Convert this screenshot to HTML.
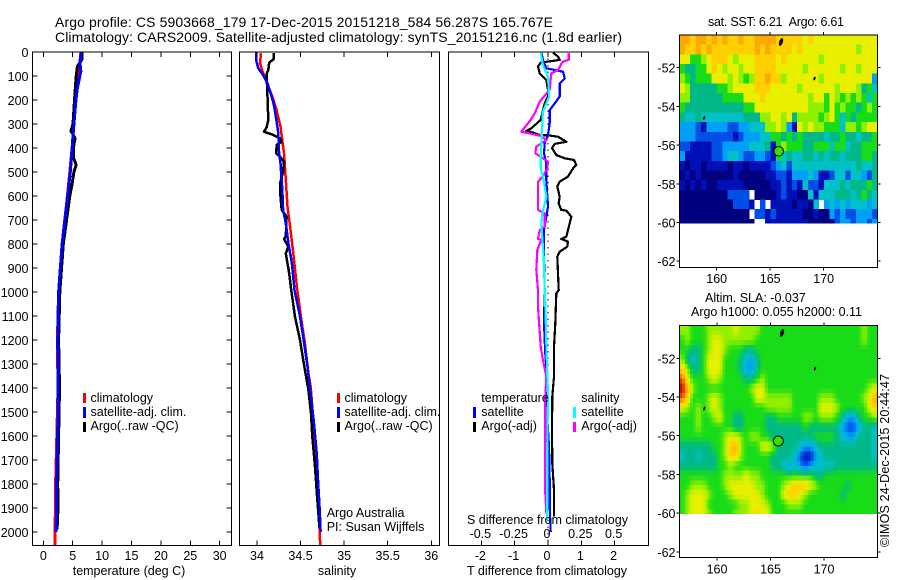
<!DOCTYPE html>
<html lang="en">
<head>
<meta charset="utf-8">
<title>Argo profile chart</title>
<style>
html,body{margin:0;padding:0;background:#fff}
svg{display:block}
text{font-family:"Liberation Sans",sans-serif;font-size:12.5px;fill:#000}
.t{font-size:14px}
</style>
</head>
<body>
<svg id="chart" width="900" height="580" viewBox="0 0 900 580" xmlns="http://www.w3.org/2000/svg">
<rect width="900" height="580" fill="#fff"/>
<text class="t" x="55" y="27" textLength="498">Argo profile: CS 5903668_179 17-Dec-2015 20151218_584 56.287S 165.767E</text>
<text class="t" x="55" y="42" textLength="567">Climatology: CARS2009. Satellite-adjusted climatology: synTS_20151216.nc (1.8d earlier)</text>
<text x="708" y="26" textLength="136">sat. SST: 6.21&#160;&#160;Argo: 6.61</text>
<text x="705" y="302">Altim. SLA: -0.037</text>
<text x="691" y="316" textLength="171">Argo h1000: 0.055 h2000: 0.11</text>
<text transform="translate(889,547) rotate(-90)" textLength="173">©IMOS 24-Dec-2015 20:44:47</text>
<g id="layer"></g>
</svg>
<script>
// ---- axis tick values ----
const depthTicks = [0,100,200,300,400,500,600,700,800,900,1000,1100,1200,1300,1400,1500,1600,1700,1800,1900,2000];
const tempTicks = [0,5,10,15,20,25,30];
const salTicks = [34,34.5,35,35.5,36];
const tDiffTicks = [-2,-1,0,1,2];
const sDiffTicks = [-0.5,-0.25,0,0.25,0.5];
const lonTicks = [160,165,170];
const latTicks = [-52,-54,-56,-58,-60,-62];

// ---- temperature profiles ----
const tempClimDepth = [0,50,100,200,300,400,500,600,800,1000,1200,1400,1600,1800,2000,2054];
const tempClim = [6.4,6.2,5.9,5.5,5.2,4.9,4.5,4.1,3.2,2.6,2.4,2.5,2.3,2.1,2.0,2.0];
const tempSatDepth = [0,40,80,100,150,200,300,400,500,600,800,1000,1200,1400,1600,1800,2000];
const tempSat = [6.5,6.2,6.4,6.2,5.8,5.55,5.2,4.9,4.6,4.15,3.2,2.6,2.45,2.5,2.45,2.25,2.2];
const tempArgoDepth = [0,30,60,100,200,300,330,340,360,400,440,470,500,550,600,800,1000,1200,1400,1600,1800,1900,1990];
const tempArgo = [6.6,6.6,5.8,5.6,5.3,5.05,4.7,5.0,5.4,5.1,5.1,5.6,5.2,4.9,4.5,3.4,2.8,2.6,2.75,2.6,2.45,2.5,2.35];

// ---- salinity profiles ----
const salClimDepth = [5,47,82,117,179,242,311,422,533,644,728,839,985,1117,1214,1339,1394,1700,2005,2054];
const salClim = [34.046,34.034,34.065,34.10,34.17,34.225,34.27,34.31,34.33,34.35,34.38,34.417,34.46,34.51,34.55,34.59,34.616,34.68,34.72,34.725];
const salSatDepth = [0,33,68,96,130,165,214,255,339,408,464,519,575,658,714,797,880,992,1089,1186,1311,1436,1547,1672,1783,1908,1999];
const salSat = [33.99,33.99,34.015,34.07,34.12,34.15,34.19,34.21,34.245,34.25,34.27,34.28,34.29,34.30,34.33,34.36,34.40,34.43,34.486,34.53,34.58,34.62,34.654,34.685,34.70,34.72,34.73];
const salArgoDepth = [5,30,44,75,89,186,283,314,332,343,360,374,387,422,436,457,499,547,603,658,686,769,779,811,839,922,985,1103,1200,1283,1408,1506,1603,1728,1853,1950,1980];
const salArgo = [34.195,34.19,34.14,34.13,34.11,34.12,34.13,34.11,34.08,34.17,34.264,34.283,34.226,34.22,34.264,34.31,34.30,34.264,34.27,34.283,34.34,34.33,34.31,34.36,34.33,34.37,34.39,34.436,34.493,34.53,34.59,34.62,34.635,34.665,34.69,34.71,34.715];

// ---- differences from climatology ----
const dTempArgoDepth = [3,19,33,40,44,61,89,117,158,186,214,242,283,318,328,336,346,347,353,374,383,401,429,443,450,471,485,519,540,561,603,631,658,661,686,742,769,779,790,811,832,853,922,992,1006,1131,1228,1353,1436,1575,1714,1825,1936];
const dTempArgo = [.15,.30,.35,0,-.22,-.30,-.25,-.05,0,0,-.10,-.15,-.22,-.50,-.65,-.45,-.25,0,.30,.55,.20,.12,.25,.50,.78,.85,.75,.60,.35,.28,.35,.32,.40,.55,.70,.60,.55,.40,.60,.58,.35,.28,.30,.32,.25,.22,.18,.18,.13,.12,.13,.18,.18];
const dTempSatDepth = [3,33,68,82,110,131,186,214,242,297,346,381,422,464,533,644,686,742,853,992,1131,1256,1367,1506,1644,1783,1894,1999];
const dTempSat = [-.2,-.15,-.05,.45,.5,.35,.35,.2,.05,.05,0,-.1,-.12,-.05,-.05,0,-.05,-.12,-.12,-.10,-.12,-.08,-.02,-.03,.03,.05,.05,.08];
const dSalArgoDepth = [5,33,40,75,89,158,207,256,283,332,350,367,394,422,443,457,485,519,540,658,672,728,742,779,783,825,908,992,1061,1228,1283,1353,1436,1617,1839,1922];
const dSalArgo = [.155,.155,.11,.075,.025,.012,-.062,-.10,-.13,-.20,-.05,-.012,-.088,-.095,-.038,0,-.005,-.038,-.075,-.075,-.025,-.025,-.062,-.075,-.05,-.08,-.088,-.075,-.075,-.055,-.038,-.012,-.02,-.02,-.02,-.012];
const dSalSatDepth = [3,54,103,186,249,325,436,485,519,603,672,721,853,992,1089,1228,1339,1436,1644,1853,1950];
const dSalSat = [-.055,-.038,0,.008,-.038,-.045,-.055,-.055,-.038,-.012,-.042,-.05,-.032,-.025,-.018,-.012,-.005,0,-.005,-.005,-.005];

// ---- map grids: colour-scale level per half-degree cell, north to south ----
const sstGrid = [
[10,10,9,10,10,9,10,9,10,9,9,10,9,9,10,10,10,10,9,9,9,9,9,8,9,8,8,8,8,8,8,8,8,8,8,8,8],
[10,9,9,10,9,10,9,9,9,9,9,9,9,9,10,9,10,9,9,9,9,8,9,8,8,8,8,8,8,8,8,8,8,7,8,8,8],
[8,8,6,6,7,8,9,9,9,8,7,8,8,8,9,9,9,9,8,9,8,8,8,8,8,8,7,8,8,8,8,8,8,8,8,8,8],
[6,5,5,6,6,8,9,8,7,8,8,7,8,8,9,9,9,9,8,8,8,8,8,7,8,8,8,8,8,8,7,8,8,7,8,8,8],
[7,6,5,6,6,6,8,8,8,7,8,7,6,7,9,9,10,9,9,7,8,8,8,8,8,8,7,8,8,8,8,8,8,8,8,8,3],
[8,7,5,5,5,5,5,6,6,7,8,8,8,8,9,9,9,8,8,8,8,8,7,8,8,8,8,8,8,7,8,8,8,7,5,6,4],
[7,7,5,5,5,5,5,5,6,6,6,6,8,8,8,9,8,8,8,8,8,8,8,8,7,8,8,6,8,7,6,7,6,7,6,4,6],
[6,5,5,5,5,5,5,5,5,5,5,5,6,6,8,8,8,8,8,8,8,8,8,8,7,7,7,6,8,6,7,6,6,5,6,7,6],
[5,4,4,5,4,4,4,4,4,4,4,4,5,5,5,7,7,8,8,7,8,5,7,7,7,7,6,7,8,6,4,6,5,6,6,6,6],
[3,3,3,2,1,3,3,3,3,2,2,3,3,4,4,4,7,7,8,7,3,1,8,7,8,7,7,6,6,6,4,7,7,6,7,8,8],
[3,3,3,2,2,2,2,2,2,2,1,2,3,3,3,4,4,6,6,5,6,5,6,5,5,5,5,4,5,5,6,5,5,4,5,5,6],
[2,2,1,1,1,1,2,2,3,3,3,3,3,4,4,4,5,1,6,7,6,6,6,5,5,6,6,6,4,6,6,4,5,5,6,6,6],
[3,1,1,1,1,1,2,2,3,4,4,3,2,2,3,3,2,1,6,4,5,4,4,5,5,4,5,4,5,5,4,5,5,5,6,6,5],
[1,0,1,1,0,1,1,1,1,0,1,1,0,1,1,1,1,2,3,4,2,4,4,4,4,4,4,4,4,4,4,4,4,5,4,4,5],
[0,1,0,1,0,0,0,0,0,0,1,0,0,0,0,0,1,1,2,2,1,3,3,3,4,3,1,1,2,4,4,2,4,4,3,2,5],
[1,0,1,0,1,0,0,1,1,1,1,1,0,0,0,0,0,1,1,2,1,2,1,4,2,2,1,4,4,4,5,4,5,5,5,6,5],
[0,0,0,0,0,0,0,0,0,2,2,2,2,null,0,0,0,0,1,2,1,1,0,0,4,1,4,4,4,5,5,5,4,5,6,5,4],
[0,0,0,0,0,0,0,0,0,0,2,2,2,1,null,2,null,1,1,1,1,0,1,1,0,4,null,3,4,3,4,3,4,4,4,3,4],
[0,0,0,0,0,0,0,0,0,0,0,0,0,null,2,2,1,2,1,1,1,1,1,0,0,1,0,0,3,2,3,2,2,3,3,3,2],
[0,0,0,0,0,0,0,0,0,0,0,0,0,0,null,null,1,1,1,1,1,1,1,1,0,0,0,0,0,2,3,3,2,3,3,2,3]
];
const slaGrid = [
[7,7,6,6,6,7,7,7,7,7,8,7,7,7,7,6,6,6,6,6,6,6,6,6,6,6,6,6,6,6,6,6,6,6,7,6,6],
[6,7,6,6,6,7,8,8,7,7,7,7,7,7,6,6,6,6,6,6,6,6,6,6,6,6,6,6,6,6,6,6,6,6,7,6,6],
[6,6,5,5,6,7,8,8,7,6,6,6,5,5,6,6,6,6,6,6,6,6,6,6,6,6,6,6,6,6,6,6,6,6,6,6,6],
[7,5,4,5,6,8,8,8,6,6,6,5,4,3,5,6,6,6,6,6,6,6,6,6,6,6,6,6,6,6,6,6,6,6,6,6,6],
[9,7,5,5,6,8,8,8,6,6,6,5,3,3,5,6,6,6,6,6,6,6,6,6,6,6,6,6,6,6,6,6,6,6,6,6,6],
[11,8,6,6,6,7,8,7,6,6,6,6,5,5,6,7,6,6,6,6,6,6,6,6,6,6,6,6,6,6,6,6,6,6,6,6,6],
[12,10,7,6,6,6,6,6,6,6,6,6,6,7,8,8,6,6,6,6,6,6,6,6,6,6,6,6,6,6,6,6,6,6,6,7,8],
[11,9,6,6,6,7,8,7,6,6,6,6,6,6,8,8,7,7,7,7,7,6,6,6,6,6,7,7,7,6,6,6,6,6,7,8,10],
[8,7,6,7,6,7,8,7,6,6,6,6,6,6,6,6,7,7,7,7,7,6,6,6,6,6,8,8,8,7,6,6,6,6,6,8,9],
[6,6,6,7,6,6,7,8,6,6,5,5,6,6,6,6,5,5,6,6,6,6,6,7,7,6,7,7,7,6,5,3,3,5,6,6,7],
[6,6,6,7,6,6,6,6,6,6,5,5,6,6,6,6,5,5,5,5,5,5,5,6,5,5,5,5,5,5,3,2,2,3,5,5,4],
[6,6,6,6,6,6,6,6,7,8,8,7,6,7,7,6,6,5,5,5,5,5,5,5,5,6,6,6,6,5,4,3,3,5,5,5,4],
[5,5,5,5,5,5,6,6,7,9,10,7,6,6,6,8,8,7,5,5,5,5,4,3,3,4,5,5,5,5,5,5,5,5,5,5,4],
[4,5,5,4,5,5,5,6,7,9,9,7,6,6,6,6,6,5,5,5,5,4,2,1,1,3,4,5,5,5,5,5,5,5,5,5,4],
[5,5,5,5,5,5,5,6,6,7,6,6,6,6,6,6,6,5,5,4,3,4,3,2,3,4,4,4,4,5,5,5,5,5,5,5,5],
[6,6,6,6,6,6,6,6,7,7,7,7,8,7,7,6,6,6,6,6,6,6,6,6,6,5,5,6,6,6,6,6,6,6,6,6,6],
[6,6,7,7,7,6,6,6,7,8,8,8,8,8,7,7,6,6,6,7,8,9,9,9,8,7,6,6,6,6,6,5,6,6,6,6,6],
[6,7,8,8,8,7,6,6,6,7,8,8,8,8,8,7,6,6,6,8,9,9,8,7,6,6,6,6,6,6,5,6,6,6,6,6,6],
[6,7,8,8,8,6,6,6,6,6,6,7,7,8,8,8,7,6,6,6,7,7,7,6,6,6,6,6,6,6,6,6,6,6,6,6,6],
[6,7,8,8,8,7,6,6,6,6,7,7,7,8,9,8,8,6,6,6,6,6,6,6,6,6,6,6,6,6,6,6,6,6,6,6,6]
];
const levelColors = ['#000080','#0010b8','#0050e8','#00a0f8','#00c0c8','#00b888','#18dc18','#90f000','#e8f000','#ffd000','#ffa800','#f05000','#a01000'];

const NS = 'http://www.w3.org/2000/svg';
const layer = document.getElementById('layer');

function add(tag, attrs, name, txt) {
  const el = document.createElementNS(NS, tag);
  for (const k in attrs) el.setAttribute(k, attrs[k]);
  
  
  if (txt !== undefined) el.textContent = txt;
  layer.appendChild(el);
  return el;
}
function yDepth(d) { return 52 + 0.24 * d; }
function xTemp(t) { return 43.3 + 5.88 * t; }
function xSal(s) { return 257 + 87.15 * (s - 34); }
function xDT(t) { return 548 + 33.33 * t; }
function xDS(s) { return 548 + 133.3 * s; }

function lineStyle(name, depths, vals, xf, color, w) {
  const pts = depths.map((d, i) => xf(vals[i]).toFixed(1) + ',' + yDepth(d).toFixed(1)).join(' ');
  add('polyline', {points: pts, fill: 'none', stroke: color, 'stroke-width': w, 'shape-rendering': 'crispEdges', 'stroke-linejoin': 'round'}, name);
}
function box(name, x, y, w, h) {
  add('rect', {x: x, y: y, width: w, height: h, fill: 'none', stroke: '#000', 'stroke-width': 1.2, 'shape-rendering': 'crispEdges'}, name);
}
function tick(name, x1, y1, x2, y2) {
  add('line', {x1: x1, y1: y1, x2: x2, y2: y2, stroke: '#000', 'stroke-width': 1, 'shape-rendering': 'crispEdges'}, name);
}
function label(name, x, y, s, anchor) {
  add('text', {x: x, y: y, 'text-anchor': anchor || 'start'}, name, s);
}
function legend(name, x, y1, y2, color) {
  add('rect', {x: x, y: y1, width: 3, height: y2 - y1, fill: color, 'shape-rendering': 'crispEdges'}, name);
}
const L = 32.5, R = 231.5, T = 52, B = 545.5;

// panel 1: temperature
lineStyle('temperature-climatology-line', tempClimDepth, tempClim, xTemp, '#ff0000', 3);
lineStyle('temperature-argo-line', tempArgoDepth, tempArgo, xTemp, '#000', 3);
lineStyle('temperature-satellite-line', tempSatDepth, tempSat, xTemp, '#0000ff', 3);
box('temperature-plot-frame', L, T, R - L, B - T);
depthTicks.forEach(d => {
  tick('depth-tick-left', L, yDepth(d), L + 5, yDepth(d));
  tick('depth-tick-right', R - 5, yDepth(d), R, yDepth(d));
  label('depth-tick-label', 28.5, yDepth(d) + 5, String(d), 'end');
});
tempTicks.forEach(t => {
  tick('temperature-tick-top', xTemp(t), T, xTemp(t), T + 5);
  tick('temperature-tick-bottom', xTemp(t), B - 5, xTemp(t), B);
  label('temperature-tick-label', xTemp(t), 560, String(t), 'middle');
});
label('temperature-axis-title', 129, 575, 'temperature (deg C)', 'middle');
[['climatology', '#ff0000', 393, 403, 402], ['satellite-adj. clim.', '#0000ff', 407, 418, 416], ['Argo(..raw -QC)', '#000', 422, 432, 430]].forEach(e => {
  legend('temperature-legend-swatch', 83, e[2], e[3], e[1]);
  label('temperature-legend-label', 90.5, e[4], e[0]);
  legend('salinity-legend-swatch', 337, e[2], e[3], e[1]);
  label('salinity-legend-label', 344.5, e[4], e[0]);
});

// panel 2: salinity
lineStyle('salinity-climatology-line', salClimDepth, salClim, xSal, '#ff0000', 2.5);
lineStyle('salinity-argo-line', salArgoDepth, salArgo, xSal, '#000', 2.5);
lineStyle('salinity-satellite-line', salSatDepth, salSat, xSal, '#0000ff', 2.5);
box('salinity-plot-frame', 239.5, T, 200, B - T);
salTicks.forEach(s => {
  tick('salinity-tick-top', xSal(s), T, xSal(s), T + 5);
  tick('salinity-tick-bottom', xSal(s), B - 5, xSal(s), B);
  label('salinity-tick-label', xSal(s), 560, String(s), 'middle');
});
label('salinity-axis-title', 337, 575, 'salinity', 'middle');
label('float-operator-note', 326.7, 517, 'Argo Australia');
label('principal-investigator-note', 326.7, 531, 'PI: Susan Wijffels');

// panel 3: differences
add('line', {x1: 548, y1: T, x2: 548, y2: B, stroke: '#000', 'stroke-width': 1, 'stroke-dasharray': '1.5 5', 'shape-rendering': 'crispEdges'}, 'zero-difference-line');
lineStyle('temperature-diff-argo-line', dTempArgoDepth, dTempArgo, xDT, '#000', 2.2);
lineStyle('temperature-diff-satellite-line', dTempSatDepth, dTempSat, xDT, '#0000ff', 2.2);
lineStyle('salinity-diff-argo-line', dSalArgoDepth, dSalArgo, xDS, '#ff00ff', 2.2);
lineStyle('salinity-diff-satellite-line', dSalSatDepth, dSalSat, xDS, '#00ffff', 2.2);
box('difference-plot-frame', 448.5, T, 200, B - T);
tDiffTicks.forEach(t => {
  tick('difference-tick-top', xDT(t), T, xDT(t), T + 5);
  tick('difference-tick-bottom', xDT(t), B - 5, xDT(t), B);
  label('t-difference-tick-label', xDT(t) - 1, 560, String(t), 'middle');
});
sDiffTicks.forEach(s => {
  label('s-difference-tick-label', xDS(s) - 1, 538, String(s), 'middle');
});
label('s-difference-axis-title', 467, 524, 'S difference from climatology');
label('t-difference-axis-title', 467, 575, 'T difference from climatology');
label('temperature-group-label', 481.3, 402, 'temperature');
label('salinity-group-label', 581.3, 402, 'salinity');
[['satellite', 407, 418, 416, '#0000ff', '#00ffff'], ['Argo(-adj)', 422, 432, 430, '#000', '#ff00ff']].forEach(e => {
  legend('difference-temperature-swatch', 473, e[1], e[2], e[4]);
  label('difference-temperature-label', 481.3, e[3], e[0]);
  legend('difference-salinity-swatch', 573, e[1], e[2], e[5]);
  label('difference-salinity-label', 581.3, e[3], e[0]);
});

// maps
function hexRgb(h) {
  return [parseInt(h.slice(1, 3), 16), parseInt(h.slice(3, 5), 16), parseInt(h.slice(5, 7), 16)];
}
function levelColor(v) {
  const x = Math.max(0, Math.min(levelColors.length - 1, v));
  const i = Math.min(levelColors.length - 2, Math.floor(x));
  const f = x - i;
  const a = hexRgb(levelColors[i]);
  const b = hexRgb(levelColors[i + 1]);
  return 'rgb(' + a.map((p, k) => Math.round(p + (b[k] - p) * f)).join(',') + ')';
}
function sampleGrid(grid, r, c) {
  const rr = Math.max(0, Math.min(grid.length - 1, r));
  const cc = Math.max(0, Math.min(grid[0].length - 1, c));
  const r0 = Math.floor(rr), c0 = Math.floor(cc);
  const r1 = Math.min(grid.length - 1, r0 + 1), c1 = Math.min(grid[0].length - 1, c0 + 1);
  const fr = rr - r0, fc = cc - c0;
  return (grid[r0][c0] * (1 - fc) + grid[r0][c1] * fc) * (1 - fr) + (grid[r1][c0] * (1 - fc) + grid[r1][c1] * fc) * fr;
}
function drawMap(prefix, grid, mapTop, mapBottom, lat52, latStep, lon160, lonBase, sub) {
  const mapL = 679.5, mapR = 877.5;
  const cw = 5.35 / sub, ch = latStep / 4 / sub;
  const dataBottom = lat52 + latStep * 4 + 1;
  const rows = grid.length * sub, cols = grid[0].length * sub;
  for (let r = 0; r < rows; r++) {
    for (let c = 0; c < cols; c++) {
      const v = sub === 1 ? grid[r][c] : sampleGrid(grid, (r + 0.5) / sub - 0.5, (c + 0.5) / sub - 0.5);
      if (v === null) continue;
      const y = mapTop + r * ch;
      const h = Math.min(ch + 0.3, dataBottom - y);
      if (h <= 0) continue;
      add('rect', {
        x: (mapL + c * cw).toFixed(2), y: y.toFixed(2),
        width: (cw + 0.3).toFixed(2),
        height: h.toFixed(2),
        fill: levelColor(v), 'shape-rendering': 'crispEdges'
      }, prefix + '-cell');
    }
  }
  box(prefix + '-map-frame', mapL, mapTop, mapR - mapL, mapBottom - mapTop);
  lonTicks.forEach(lon => {
    const x = lon160 + (lon - 160) * 10.7;
    tick(prefix + '-lon-tick-top', x, mapTop - 3, x, mapTop);
    tick(prefix + '-lon-tick-bottom', x, mapBottom, x, mapBottom + 3);
    label(prefix + '-lon-label', x, lonBase, String(lon), 'middle');
  });
  latTicks.forEach(lat => {
    const y = lat52 + (-52 - lat) * latStep / 2;
    tick(prefix + '-lat-tick-left', mapL - 3, y, mapL, y);
    tick(prefix + '-lat-tick-right', mapR, y, mapR + 3, y);
    label(prefix + '-lat-label', 675.5, y + 5, '-' + Math.abs(lat), 'end');
  });
}
drawMap('sst', sstGrid, 35, 267.5, 67.7, 38.7, 716.7, 283, 1);
drawMap('sla', slaGrid, 325.5, 557.5, 358.3, 38.7, 717, 573.5, 2);

[[781, 42], [814.5, 78.5], [704, 118], [782, 333], [815, 368.5], [704.3, 408.5]].forEach((p, i) => {
  const big = i === 0 || i === 3;
  add('ellipse', {cx: p[0], cy: p[1], rx: big ? 1.8 : 1, ry: big ? 4 : 2, fill: '#000', transform: 'rotate(20 ' + p[0] + ' ' + p[1] + ')'}, 'island-marker');
});
add('circle', {cx: 778.7, cy: 151.3, r: 4.8, fill: '#30e000', stroke: '#000', 'stroke-width': 1}, 'sst-float-position');
add('circle', {cx: 778.3, cy: 441, r: 5, fill: '#30e000', stroke: '#000', 'stroke-width': 1}, 'sla-float-position');
</script>
</body>
</html>
